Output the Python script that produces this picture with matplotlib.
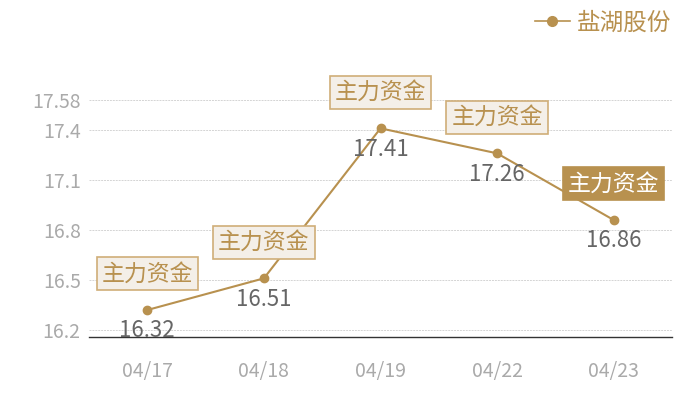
import matplotlib
matplotlib.use("Agg")
import matplotlib.pyplot as plt
from matplotlib.lines import Line2D

plt.rcParams['font.family'] = ['Noto Sans CJK SC', 'DejaVu Sans']

# 数据
dates = ['04/17', '04/18', '04/19', '04/22', '04/23']
prices = [16.32, 16.51, 17.41, 17.26, 16.86]
yticks = [16.2, 16.5, 16.8, 17.1, 17.4, 17.58]
tag_text = '主力资金'
series_name = '盐湖股份'

gold = '#b8914f'
x = list(range(len(dates)))

fig = plt.figure(figsize=(7, 4), dpi=100)
ax = fig.add_axes([89 / 700, 63 / 400, 583 / 700, 237 / 400])

ax.plot(x, prices, color=gold, lw=1.5, marker='o', ms=6, zorder=3, clip_on=False)

ax.set_xlim(-0.5, len(dates) - 0.5)
ax.set_ylim(16.158, 17.58)
ax.set_xticks(x)
ax.set_xticklabels(dates)
ax.set_yticks(yticks)
ax.set_yticklabels([str(v) for v in yticks])
ax.tick_params(length=0, labelsize=14, labelcolor='#aaaaaa')
ax.tick_params(axis='x', pad=17)
ax.tick_params(axis='y', pad=6)

for v in yticks:
    ax.axhline(v, color='#d4d4d4', lw=0.7, dashes=(2, 1), zorder=1)

for s in ['top', 'right', 'left']:
    ax.spines[s].set_visible(False)
ax.spines['bottom'].set_color('#333333')
ax.spines['bottom'].set_linewidth(1)

# 数值标签和标记框
for i, p in enumerate(prices):
    ax.annotate(f'{p:.2f}', (i, p), xytext=(0, -15), textcoords='offset points',
                ha='center', va='center', fontsize=16, color='#666666', zorder=4)
    last = i == len(prices) - 1
    ax.annotate(tag_text, (i, p), xytext=(0, 26), textcoords='offset points',
                ha='center', va='center', fontsize=16.5,
                color='white' if last else gold, zorder=5,
                bbox=dict(boxstyle='square,pad=0.22',
                          fc=gold if last else '#f4efe8',
                          ec=gold if last else '#cfae78', lw=1.2))

handle = Line2D([], [], color=gold, lw=1.2, marker='o', ms=7)
fig.legend([handle], [series_name], loc='upper right', bbox_to_anchor=(0.99, 1.025),
           frameon=False, fontsize=17, labelcolor=gold, handlelength=1.5,
           handletextpad=0.3)

fig.savefig('out.png', dpi=100)
